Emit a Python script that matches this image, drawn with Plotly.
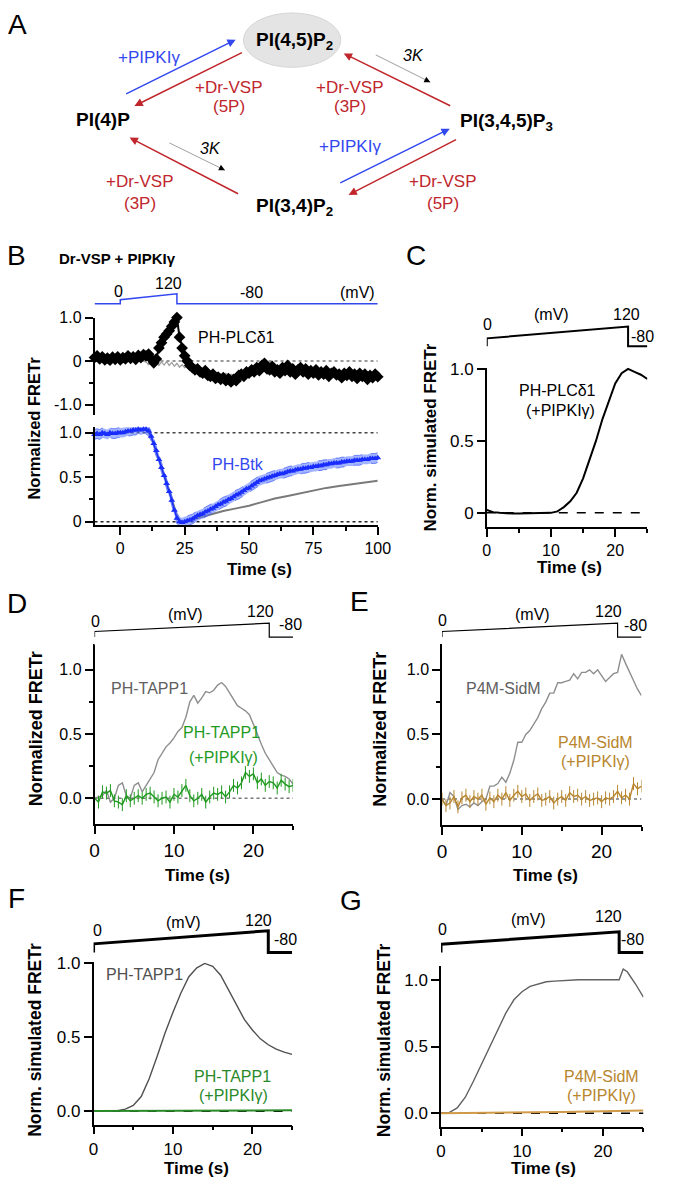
import plotly.graph_objects as go

W, H = 673, 1188
FONT = "Liberation Sans, Arial, Helvetica, sans-serif"

# ---------------- DATA ----------------
# Panel B (time in s, 1 s sampling)
b_t = list(range(-10, 101))
plc_mean = [0.08, 0.12, 0.05, 0.10, 0.03, 0.07, 0.02, 0.09, 0.04, 0.10,
            0.03, 0.08, 0.05, 0.12, 0.06, 0.10, 0.04, 0.13, 0.08, 0.15,
            0.12, 0.16, 0.05, -0.04, 0.05, 0.30, 0.42, 0.55, 0.62, 0.70,
            0.80, 0.90, 1.00, 0.55, 0.30, 0.12, 0.00, -0.10, -0.15, -0.20,
            -0.18, -0.25, -0.28, -0.22, -0.33, -0.35, -0.30, -0.40, -0.37, -0.42,
            -0.38, -0.45, -0.40, -0.48, -0.42, -0.45, -0.33, -0.30, -0.35, -0.25,
            -0.28, -0.20, -0.25, -0.15, -0.22, -0.10, -0.05, -0.18, -0.20, -0.12,
            -0.25, -0.20, -0.28, -0.15, -0.22, -0.10, -0.25, -0.18, -0.30, -0.20,
            -0.15, -0.25, -0.18, -0.30, -0.22, -0.28, -0.20, -0.32, -0.25, -0.30,
            -0.22, -0.35, -0.28, -0.25, -0.32, -0.30, -0.38, -0.28, -0.33, -0.25,
            -0.35, -0.30, -0.40, -0.28, -0.35, -0.30, -0.42, -0.33, -0.38, -0.30,
            -0.36]
plc_err = 0.08
plc_ctrl = [0.02, 0.00, 0.03, 0.01, -0.01, 0.02, 0.00, 0.03, -0.01, 0.02,
            0.01, 0.03, 0.00, 0.02, -0.01, 0.03, 0.00, 0.02, 0.01, 0.00,
            -0.02, -0.08, -0.02, -0.10, -0.03, -0.10, -0.02, -0.09, -0.01, -0.10,
            -0.03, -0.12, -0.05, -0.14, -0.08, -0.15, -0.12, -0.18, -0.15, -0.20,
            -0.18, -0.22, -0.20, -0.25, -0.22, -0.27, -0.25, -0.30, -0.27, -0.30,
            -0.32, -0.28, -0.33, -0.30, -0.35, -0.30, -0.28, -0.25, -0.28, -0.22,
            -0.25, -0.20, -0.22, -0.18, -0.20, -0.15, -0.12, -0.20, -0.18, -0.15,
            -0.22, -0.18, -0.25, -0.20, -0.22, -0.15, -0.22, -0.20, -0.27, -0.22,
            -0.20, -0.25, -0.22, -0.28, -0.25, -0.27, -0.22, -0.30, -0.27, -0.30,
            -0.25, -0.32, -0.28, -0.27, -0.30, -0.32, -0.35, -0.30, -0.33, -0.28,
            -0.33, -0.32, -0.38, -0.30, -0.35, -0.32, -0.40, -0.35, -0.38, -0.33,
            -0.35]
btk_mean = [0.98, 0.99, 0.98, 1.00, 0.99, 0.98, 1.00, 0.99, 0.99, 1.00,
            1.00, 1.00, 1.01, 1.02, 1.02, 1.03, 1.03, 1.04, 1.03, 1.04,
            1.04, 1.02, 0.96, 0.88, 0.80, 0.70, 0.61, 0.52, 0.43, 0.34,
            0.24, 0.13, 0.04, 0.00, -0.01, 0.00, 0.01, 0.02, 0.03, 0.05,
            0.07, 0.08, 0.09, 0.11, 0.12, 0.14, 0.15, 0.17, 0.19, 0.20,
            0.22, 0.23, 0.25, 0.26, 0.28, 0.30, 0.31, 0.33, 0.35, 0.37,
            0.38, 0.40, 0.42, 0.44, 0.46, 0.47, 0.48, 0.49, 0.50, 0.51,
            0.52, 0.53, 0.54, 0.54, 0.55, 0.56, 0.57, 0.57, 0.58, 0.59,
            0.59, 0.60, 0.60, 0.61, 0.61, 0.62, 0.62, 0.63, 0.63, 0.64,
            0.64, 0.65, 0.65, 0.66, 0.66, 0.66, 0.67, 0.67, 0.68, 0.68,
            0.68, 0.69, 0.69, 0.69, 0.70, 0.70, 0.70, 0.71, 0.71, 0.71,
            0.72]
btk_sem = 0.055
btk_ctrl_t = [-10, -5, 0, 5, 10, 11, 12, 13, 14, 15, 16, 17, 18, 19, 20, 21, 22, 23,
              24, 25, 30, 35, 40, 45, 50, 55, 60, 65, 70, 75, 80, 85, 90, 95, 100]
btk_ctrl = [0.99, 0.99, 1.00, 1.02, 1.03, 1.00, 0.95, 0.87, 0.79, 0.70, 0.62, 0.53,
            0.44, 0.35, 0.26, 0.16, 0.07, 0.02, 0.00, 0.00, 0.04, 0.08, 0.12, 0.15,
            0.18, 0.22, 0.26, 0.29, 0.32, 0.35, 0.38, 0.40, 0.42, 0.44, 0.46]
b_volt_t = [-10, 0, 0, 22, 22, 100]
b_volt_mv = [-80, -80, 0, 120, -80, -80]

# Voltage protocol for C-G
v_t = [0, 0, 22, 22, 25]
v_mv = [-80, 0, 120, -80, -80]

# Panel C (simulation, 1 s sampling)
c_t = list(range(0, 26))
c_plc = [0.02, 0.005, 0.0, -0.005, -0.005, -0.005, -0.005, -0.005, -0.005, -0.003,
         0.0, 0.01, 0.04, 0.08, 0.14, 0.24, 0.37, 0.50, 0.65, 0.78,
         0.90, 0.97, 1.00, 0.98, 0.96, 0.93]

# Panels D, E (0.5 s sampling)
de_t = [i / 2 for i in range(51)]
d_tapp1 = [0.00, 0.01, 0.02, 0.06, -0.03, 0.00, 0.10, 0.12, 0.02, 0.00,
           0.10, 0.12, 0.05, 0.10, 0.15, 0.20, 0.30, 0.35, 0.40, 0.43,
           0.47, 0.52, 0.55, 0.63, 0.75, 0.80, 0.74, 0.78, 0.83, 0.82,
           0.84, 0.88, 0.90, 0.87, 0.82, 0.78, 0.72, 0.70, 0.68, 0.65,
           0.58, 0.50, 0.42, 0.35, 0.30, 0.25, 0.20, 0.18, 0.17, 0.15,
           0.11]
d_tapp1_pipk = [0.00, -0.03, 0.05, 0.04, 0.06, -0.02, -0.03, -0.05, 0.02, -0.02,
                0.00, 0.02, 0.00, 0.03, 0.04, 0.01, -0.02, 0.00, 0.01, -0.03,
                0.03, 0.01, 0.06, 0.10, 0.02, -0.02, 0.00, 0.03, -0.03, 0.01,
                0.04, 0.03, 0.05, 0.01, 0.05, 0.10, 0.08, 0.12, 0.20, 0.17,
                0.19, 0.12, 0.15, 0.10, 0.13, 0.12, 0.08, 0.14, 0.11, 0.09,
                0.10]
e_p4m = [0.00, -0.05, 0.05, 0.02, -0.08, -0.05, -0.04, -0.06, -0.03, -0.05,
         -0.02, 0.00, 0.10, 0.10, 0.12, 0.17, 0.13, 0.20, 0.30, 0.44,
         0.44, 0.50, 0.53, 0.58, 0.63, 0.70, 0.75, 0.82, 0.82, 0.90,
         0.90, 0.91, 0.92, 0.97, 0.93, 0.98, 0.98, 1.00, 0.97, 1.00,
         0.95, 0.91, 0.94, 0.97, 0.98, 1.12, 1.05, 0.98, 0.92, 0.85,
         0.80]
e_p4m_pipk = [0.00, -0.05, -0.03, 0.02, -0.06, 0.01, 0.03, -0.02, 0.02, 0.00,
              0.03, -0.04, 0.01, -0.02, 0.03, 0.00, 0.05, -0.01, 0.03, 0.06,
              0.02, 0.04, -0.01, 0.02, 0.04, -0.01, 0.00, 0.02, -0.03, 0.00,
              0.02, -0.01, 0.05, 0.02, 0.03, 0.00, 0.02, -0.01, 0.00, 0.01,
              -0.02, 0.01, 0.00, 0.02, 0.06, 0.01, 0.03, 0.00, 0.12, 0.08,
              0.10]
de_err = 0.05

# Panel F (simulation)
f_t = list(range(0, 26))
f_tapp1 = [0.0, 0.0, 0.0, 0.005, 0.015, 0.04, 0.10, 0.22, 0.37, 0.53,
           0.67, 0.80, 0.91, 0.97, 1.00, 0.98, 0.92, 0.82, 0.71, 0.62,
           0.55, 0.49, 0.45, 0.42, 0.40, 0.385]
f_pipk_t = [0, 5, 10, 15, 20, 25]
f_tapp1_pipk = [0.002, 0.003, 0.004, 0.005, 0.006, 0.007]

# Panel G (simulation)
g_t = [0, 1, 2, 3, 4, 5, 6, 7, 8, 9, 10, 11, 12, 13, 14, 15, 16, 17, 18, 19, 20, 21, 22,
       22.5, 23, 24, 25]
g_p4m = [0.0, 0.005, 0.04, 0.12, 0.24, 0.37, 0.50, 0.63, 0.75, 0.85, 0.91, 0.95, 0.97,
         0.985, 0.99, 0.995, 1.0, 1.0, 1.0, 1.0, 1.0, 1.0, 1.0, 1.08, 1.06, 0.97, 0.87]
g_pipk_t = [0, 5, 10, 15, 20, 25]
g_p4m_pipk = [0.0, 0.002, 0.005, 0.01, 0.015, 0.02]

# ---------------- COLOURS ----------------
BLUE = '#3347f0'
RED = '#c0262c'
GREEN = '#1f9a1f'
GOLD = '#b8862e'
GREY = '#8e8e8e'


def fx(p):
    return p / W


def fy(p):
    return 1 - p / H


def xdom(a, b):
    return [fx(a), fx(b)]


def ydom(top, bot):
    return [fy(bot), fy(top)]


def axis(**kw):
    d = dict(showline=True, linecolor='black', linewidth=1.5, ticks='outside', ticklen=8,
             tickwidth=1.5, tickcolor='black', showgrid=False, zeroline=False,
             fixedrange=True, tickfont=dict(family=FONT, size=16, color='black'))
    d.update(kw)
    return d


def minor(vals):
    return dict(tickmode='array', tickvals=vals, ticks='outside', ticklen=4,
                tickwidth=1.5, tickcolor='black', showgrid=False)


def hidden(**kw):
    d = dict(visible=False, showgrid=False, zeroline=False, fixedrange=True)
    d.update(kw)
    return d


layout = {}


def volt_axes(n, xd, xr, px120, pxm80):
    slope = (pxm80 - px120) / 200.0
    pad = 8
    layout['xaxis%d' % n] = hidden(domain=xd, range=xr, anchor='y%d' % n)
    layout['yaxis%d' % n] = hidden(domain=ydom(px120 - pad, pxm80 + pad),
                                   range=[-80 - pad / slope, 120 + pad / slope],
                                   anchor='x%d' % n)


# ---- Panel B axes
layout['xaxis'] = axis(domain=xdom(92, 383), range=[-10, 100], anchor='y',
                       tickmode='array', tickvals=[0, 25, 50, 75, 100],
                       minor=minor([12.5, 37.5, 62.5, 87.5]))
layout['yaxis'] = axis(domain=ydom(424, 523), range=[-0.04, 1.06], anchor='x',
                       tickmode='array', tickvals=[0, 0.5, 1.0], ticktext=['0', '0.5', '1.0'],
                       minor=minor([0.25, 0.75]))
layout['xaxis2'] = hidden(domain=xdom(92, 383), range=[-10, 100], anchor='y2')
layout['yaxis2'] = axis(domain=ydom(313, 412), range=[-1.25, 1.0], anchor='x2',
                        tickmode='array', tickvals=[-1, 0, 1], ticktext=['-1.0', '0', '1.0'],
                        minor=minor([-0.5, 0.5]))
volt_axes(3, xdom(92, 383), [-10, 100], 289, 299)

# ---- Panel C axes
layout['xaxis4'] = axis(domain=xdom(495, 660), range=[0, 25], anchor='y4',
                        tickmode='array', tickvals=[0, 10, 20], minor=minor([5, 15, 25]),
                        tickfont=dict(family=FONT, size=16, color='black'))
layout['yaxis4'] = axis(domain=ydom(363.5, 525), range=[-0.1, 1.01], anchor='x4',
                        tickmode='array', tickvals=[0, 0.5, 1.0], ticktext=['0', '0.5', '1.0'],
                        tickfont=dict(family=FONT, size=17, color='black'))
volt_axes(5, xdom(495, 660), [0, 25], 322, 342)

# ---- Panel D axes
layout['xaxis6'] = axis(domain=xdom(92, 296), range=[0, 25], anchor='y6',
                        tickmode='array', tickvals=[0, 10, 20], minor=minor([5, 15, 25]),
                        tickfont=dict(family=FONT, size=19, color='black'))
layout['yaxis6'] = axis(domain=ydom(643, 825), range=[-0.2, 1.2], anchor='x6',
                        tickmode='array', tickvals=[0, 0.5, 1.0], ticktext=['0.0', '0.5', '1.0'],
                        minor=minor([0.25, 0.75]))
volt_axes(7, xdom(92, 296), [0, 25], 622, 636)

# ---- Panel E axes
layout['xaxis8'] = axis(domain=xdom(449, 654), range=[0, 25], anchor='y8',
                        tickmode='array', tickvals=[0, 10, 20], minor=minor([5, 15, 25]),
                        tickfont=dict(family=FONT, size=19, color='black'))
layout['yaxis8'] = axis(domain=ydom(643, 826), range=[-0.2, 1.2], anchor='x8',
                        tickmode='array', tickvals=[0, 0.5, 1.0], ticktext=['0.0', '0.5', '1.0'],
                        minor=minor([0.25, 0.75]))
volt_axes(9, xdom(449, 654), [0, 25], 622, 636)

# ---- Panel F axes
layout['xaxis10'] = axis(domain=xdom(91, 295), range=[0, 25], anchor='y10',
                         tickmode='array', tickvals=[0, 10, 20], minor=minor([5, 15, 25]),
                         tickfont=dict(family=FONT, size=17, color='black'))
layout['yaxis10'] = axis(domain=ydom(964.5, 1129), range=[-0.09, 1.01], anchor='x10',
                         tickmode='array', tickvals=[0, 0.5, 1.0], ticktext=['0.0', '0.5', '1.0'],
                         tickfont=dict(family=FONT, size=17, color='black'))
volt_axes(11, xdom(91, 295), [0, 25], 933, 955)

# ---- Panel G axes
layout['xaxis12'] = axis(domain=xdom(448, 656), range=[0, 25], anchor='y12',
                         tickmode='array', tickvals=[0, 10, 20], minor=minor([5, 15, 25]),
                         tickfont=dict(family=FONT, size=17, color='black'))
layout['yaxis12'] = axis(domain=ydom(969, 1131), range=[-0.1, 1.1], anchor='x12',
                         tickmode='array', tickvals=[0, 0.5, 1.0], ticktext=['0.0', '0.5', '1.0'],
                         tickfont=dict(family=FONT, size=17, color='black'))
volt_axes(13, xdom(448, 656), [0, 25], 934, 955)

fig = go.Figure()


def line(x, y, xa, ya, color, width, dash='solid'):
    fig.add_trace(go.Scatter(x=x, y=y, xaxis=xa, yaxis=ya, mode='lines',
                             line=dict(color=color, width=width, dash=dash),
                             hoverinfo='skip', showlegend=False))


# ---- Panel B traces
line(b_volt_t, b_volt_mv, 'x3', 'y3', BLUE, 1.5)
line(b_t, plc_ctrl, 'x2', 'y2', '#9a9a9a', 1.2)
fig.add_trace(go.Scatter(x=b_t, y=plc_mean, xaxis='x2', yaxis='y2', mode='lines+markers',
                         line=dict(color='black', width=2),
                         marker=dict(symbol='diamond', size=9, color='black'),
                         error_y=dict(type='constant', value=plc_err, color='#444',
                                      thickness=1, width=0),
                         cliponaxis=False, hoverinfo='skip', showlegend=False))
line(btk_ctrl_t, btk_ctrl, 'x', 'y', '#7a7a7a', 2)
btk_lo = [m - btk_sem for m in btk_mean]
btk_hi = [m + btk_sem for m in btk_mean]
fig.add_trace(go.Scatter(x=b_t, y=btk_lo, xaxis='x', yaxis='y', mode='lines',
                         line=dict(color='rgba(60,90,255,0.7)', width=1, dash='dash'),
                         hoverinfo='skip', showlegend=False))
fig.add_trace(go.Scatter(x=b_t, y=btk_hi, xaxis='x', yaxis='y', mode='lines',
                         line=dict(color='rgba(60,90,255,0.7)', width=1, dash='dash'),
                         fill='tonexty', fillcolor='rgba(90,120,255,0.55)',
                         hoverinfo='skip', showlegend=False))
fig.add_trace(go.Scatter(x=b_t, y=btk_mean, xaxis='x', yaxis='y', mode='lines+markers',
                         line=dict(color='#1a2dff', width=1.5),
                         marker=dict(symbol='triangle-up', size=6, color='#1a2dff'),
                         cliponaxis=False, hoverinfo='skip', showlegend=False))

# ---- Panel C traces
line(v_t, v_mv, 'x5', 'y5', 'black', 2)
line(c_t, c_plc, 'x4', 'y4', 'black', 2)

# ---- Panel D traces
line(v_t, v_mv, 'x7', 'y7', 'black', 1.2)
line(de_t, d_tapp1, 'x6', 'y6', GREY, 1.4)
fig.add_trace(go.Scatter(x=de_t, y=d_tapp1_pipk, xaxis='x6', yaxis='y6', mode='lines',
                         line=dict(color=GREEN, width=1.4),
                         error_y=dict(type='constant', value=de_err, color=GREEN,
                                      thickness=1, width=0),
                         hoverinfo='skip', showlegend=False))

# ---- Panel E traces
line(v_t, v_mv, 'x9', 'y9', 'black', 1.2)
line(de_t, e_p4m, 'x8', 'y8', GREY, 1.4)
fig.add_trace(go.Scatter(x=de_t, y=e_p4m_pipk, xaxis='x8', yaxis='y8', mode='lines',
                         line=dict(color=GOLD, width=1.4),
                         error_y=dict(type='constant', value=de_err, color=GOLD,
                                      thickness=1, width=0),
                         hoverinfo='skip', showlegend=False))

# ---- Panel F traces
line(v_t, v_mv, 'x11', 'y11', 'black', 3)
line(f_t, f_tapp1, 'x10', 'y10', '#505050', 1.4)
line(f_pipk_t, f_tapp1_pipk, 'x10', 'y10', '#2a8a2a', 2)

# ---- Panel G traces
line(v_t, v_mv, 'x13', 'y13', 'black', 3)
line(g_t, g_p4m, 'x12', 'y12', '#606060', 1.4)
line(g_pipk_t, g_p4m_pipk, 'x12', 'y12', '#d09a48', 2)

# ---------------- SHAPES ----------------
shapes = []


def hline(xr, yr, x0, x1, y, color, dash, width=1.5):
    shapes.append(dict(type='line', xref=xr, yref=yr, x0=x0, x1=x1, y0=y, y1=y,
                       line=dict(color=color, dash=dash, width=width), layer='below'))


hline('x2', 'y2', -10, 100, 0, '#777', 'dot')
hline('x', 'y', -10, 100, 1.0, '#444', 'dot')
hline('x', 'y', -10, 100, 0, '#222', 'dot')
hline('x4', 'y4', 0, 25, 0, 'black', 'dash')
hline('x6', 'y6', 0, 25, 0, '#777', 'dot')
hline('x8', 'y8', 0, 25, 0, '#777', 'dot')
hline('x10', 'y10', 0, 25, 0, 'black', 'dash')
hline('x12', 'y12', 0, 25, 0, 'black', 'dash')
# ellipse around PI(4,5)P2
shapes.append(dict(type='circle', xref='paper', yref='paper', x0=fx(245), x1=fx(345),
                   y0=fy(60), y1=fy(5), fillcolor='#e4e4e4', line=dict(color='#d6d6d6', width=1),
                   layer='below'))

# ---------------- ANNOTATIONS ----------------
ann = []


def txt(x, y, s, size=16, color='black', angle=0, xanchor='center'):
    ann.append(dict(x=fx(x), y=fy(y), xref='paper', yref='paper', text=s, showarrow=False,
                    font=dict(family=FONT, size=size, color=color), xanchor=xanchor,
                    yanchor='middle', textangle=angle))


def arrow(tx, ty, hx, hy, color, width=1.5, head=2, size=1.1):
    ann.append(dict(x=fx(hx), y=fy(hy), xref='paper', yref='paper', ax=tx - hx, ay=ty - hy,
                    axref='pixel', ayref='pixel', text='', showarrow=True, arrowhead=head,
                    arrowsize=size, arrowwidth=width, arrowcolor=color, standoff=0))


def kinase_arrow(tx, ty, hx, hy):
    arrow(tx, ty, hx, hy, '#a0a0a0', width=1, head=0)
    dx, dy = hx - tx, hy - ty
    n = (dx * dx + dy * dy) ** 0.5
    arrow(hx - 5 * dx / n, hy - 5 * dy / n, hx, hy, 'black', width=1, head=2, size=1.2)


# Panel labels
for lab, x, y in [('A', 13, 17), ('B', 12, 250), ('C', 422, 250), ('D', 12, 602),
                  ('E', 364, 600), ('F', 12, 900), ('G', 356, 902)]:
    txt(x, y, lab, size=28)

# Panel A diagram
txt(297, 33, '<b>PI(4,5)P<sub>2</sub></b>', size=19)
txt(101, 113, '<b>PI(4)P</b>', size=19)
txt(515, 115, '<b>PI(3,4,5)P<sub>3</sub></b>', size=19)
txt(297, 201, '<b>PI(3,4)P<sub>2</sub></b>', size=19)
arrow(126, 87, 237, 32, BLUE)
txt(148, 50, '+PIPKIγ', size=17, color=BLUE)
arrow(242, 45, 133, 99, RED)
txt(230, 80, '+Dr-VSP', size=17, color=RED)
txt(230, 100, '(5P)', size=17, color=RED)
kinase_arrow(381, 47, 437, 75)
txt(420, 48, '<i>3K</i>', size=16)
arrow(456, 99, 348, 46, RED)
txt(354, 80, '+Dr-VSP', size=17, color=RED)
txt(354, 100, '(3P)', size=17, color=RED)
kinase_arrow(169, 136, 226, 164)
txt(211, 142, '<i>3K</i>', size=16)
arrow(238, 188, 128, 131, RED)
txt(139, 175, '+Dr-VSP', size=17, color=RED)
txt(139, 198, '(3P)', size=17, color=RED)
arrow(346, 177, 457, 122, BLUE)
txt(354, 140, '+PIPKIγ', size=17, color=BLUE)
arrow(462, 133, 353, 189, RED)
txt(450, 175, '+Dr-VSP', size=17, color=RED)
txt(450, 198, '(5P)', size=17, color=RED)

# Panel B texts
txt(116, 253, '<b>Dr-VSP + PIPKIγ</b>', size=15)
txt(117, 287, '0', size=16)
txt(168, 279, '120', size=16)
txt(253, 288, '-80', size=16)
txt(362, 288, '(mV)', size=16)
txt(238, 333, 'PH-PLCδ1', size=16)
txt(239, 462, 'PH-Btk', size=16, color=BLUE)
txt(30, 425, '<b>Normalized FRETr</b>', size=16.5, angle=-90)
txt(262, 568, '<b>Time (s)</b>', size=17)

# Panel C texts
txt(496, 320, '0', size=16)
txt(562, 310, '(mV)', size=16)
txt(639, 310, '120', size=16)
txt(655, 332, '-80', size=16)
txt(568, 387, 'PH-PLCδ1', size=16)
txt(571, 407, '(+PIPKIγ)', size=16)
txt(437, 434, '<b>Norm. simulated FRETr</b>', size=17, angle=-90)
txt(580, 566, '<b>Time (s)</b>', size=17)

# Panel D texts
txt(93, 620, '0', size=16)
txt(185, 613, '(mV)', size=16)
txt(263, 610, '120', size=16)
txt(293, 623, '-80', size=16)
txt(148, 688, 'PH-TAPP1', size=16, color='#606060')
txt(222, 733, 'PH-TAPP1', size=16, color=GREEN)
txt(225, 758, '(+PIPKIγ)', size=16, color=GREEN)
txt(32, 729, '<b>Normalized FRETr</b>', size=18, angle=-90)
txt(198, 877, '<b>Time (s)</b>', size=17)

# Panel E texts
txt(450, 619, '0', size=16)
txt(542, 613, '(mV)', size=16)
txt(620, 610, '120', size=16)
txt(648, 624, '-80', size=16)
txt(512, 688, 'P4M-SidM', size=16, color='#606060')
txt(607, 743, 'P4M-SidM', size=16, color=GOLD)
txt(607, 762, '(+PIPKIγ)', size=16, color=GOLD)
txt(385, 729, '<b>Normalized FRETr</b>', size=18, angle=-90)
txt(555, 877, '<b>Time (s)</b>', size=17)

# Panel F texts
txt(95, 933, '0', size=16)
txt(183, 925, '(mV)', size=16)
txt(260, 923, '120', size=16)
txt(288, 942, '-80', size=16)
txt(143, 977, 'PH-TAPP1', size=16, color='#505050')
txt(234, 1080, 'PH-TAPP1', size=16, color='#2a8a2a')
txt(235, 1100, '(+PIPKIγ)', size=16, color='#2a8a2a')
txt(30, 1043, '<b>Norm. simulated FRETr</b>', size=17.5, angle=-90)
txt(197, 1173, '<b>Time (s)</b>', size=17)

# Panel G texts
txt(450, 932, '0', size=16)
txt(538, 922, '(mV)', size=16)
txt(620, 919, '120', size=16)
txt(645, 942, '-80', size=16)
txt(613, 1080, 'P4M-SidM', size=16, color=GOLD)
txt(613, 1100, '(+PIPKIγ)', size=16, color=GOLD)
txt(389, 1044, '<b>Norm. simulated FRETr</b>', size=17.5, angle=-90)
txt(553, 1173, '<b>Time (s)</b>', size=17)

fig.update_layout(width=W, height=H, margin=dict(l=0, r=0, t=0, b=0),
                  paper_bgcolor='white', plot_bgcolor='white',
                  font=dict(family=FONT, color='black'), showlegend=False,
                  shapes=shapes, annotations=ann, **layout)

fig.write_html("out.html", config={'displayModeBar': False},
               post_script="document.body.style.margin='0px';"
                           "document.documentElement.style.overflow='hidden';")
